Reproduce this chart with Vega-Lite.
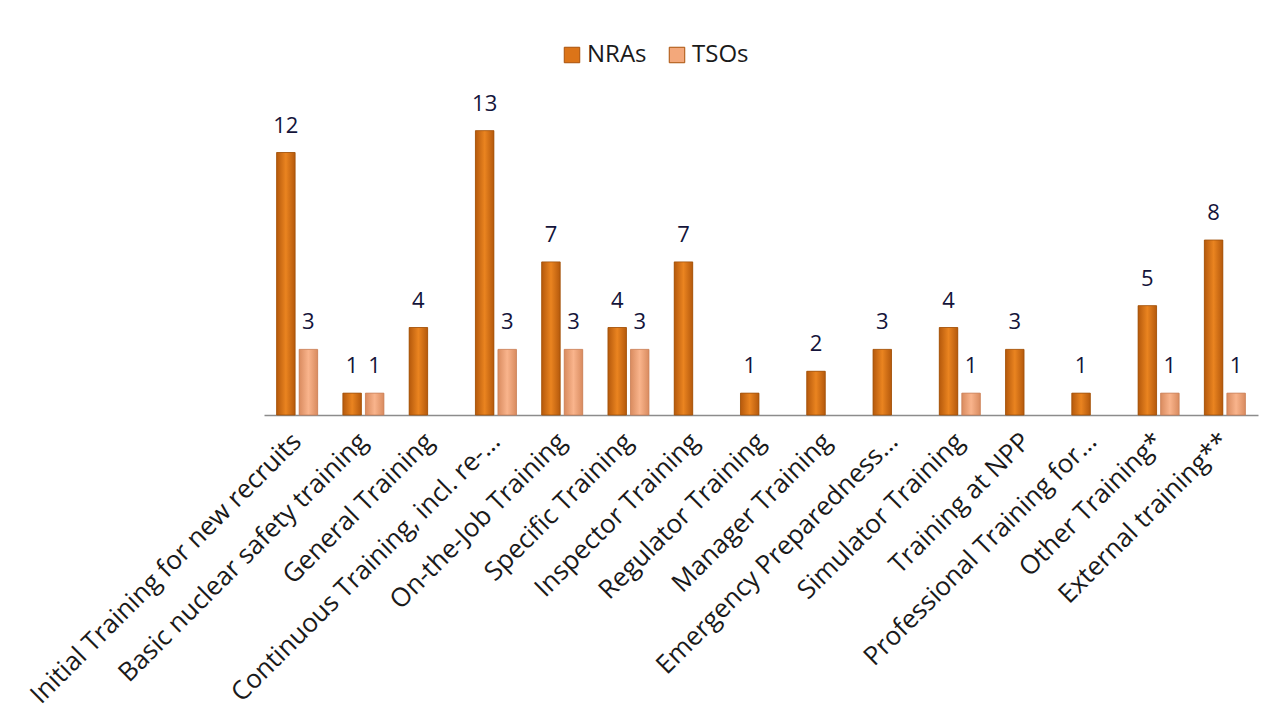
{
  "$schema": "https://vega.github.io/schema/vega-lite/v6.json",
  "width": 994,
  "height": 350,
  "autosize": {"type": "none"},
  "padding": {"left": 264, "top": 65, "right": 16, "bottom": 313},
  "background": "white",
  "config": {
    "view": {"stroke": null},
    "font": "Open Sans"
  },
  "data": {
    "values": [
      {"cat": "Initial Training for new recruits", "org": "NRAs", "n": 12},
      {"cat": "Initial Training for new recruits", "org": "TSOs", "n": 3},
      {"cat": "Basic nuclear safety training", "org": "NRAs", "n": 1},
      {"cat": "Basic nuclear safety training", "org": "TSOs", "n": 1},
      {"cat": "General Training", "org": "NRAs", "n": 4},
      {"cat": "Continuous Training, incl. re-…", "org": "NRAs", "n": 13},
      {"cat": "Continuous Training, incl. re-…", "org": "TSOs", "n": 3},
      {"cat": "On-the-Job Training", "org": "NRAs", "n": 7},
      {"cat": "On-the-Job Training", "org": "TSOs", "n": 3},
      {"cat": "Specific Training", "org": "NRAs", "n": 4},
      {"cat": "Specific Training", "org": "TSOs", "n": 3},
      {"cat": "Inspector Training", "org": "NRAs", "n": 7},
      {"cat": "Regulator Training", "org": "NRAs", "n": 1},
      {"cat": "Manager Training", "org": "NRAs", "n": 2},
      {"cat": "Emergency Preparedness…", "org": "NRAs", "n": 3},
      {"cat": "Simulator Training", "org": "NRAs", "n": 4},
      {"cat": "Simulator Training", "org": "TSOs", "n": 1},
      {"cat": "Training at NPP", "org": "NRAs", "n": 3},
      {"cat": "Professional Training for…", "org": "NRAs", "n": 1},
      {"cat": "Other Training*", "org": "NRAs", "n": 5},
      {"cat": "Other Training*", "org": "TSOs", "n": 1},
      {"cat": "External training**", "org": "NRAs", "n": 8},
      {"cat": "External training**", "org": "TSOs", "n": 1}
    ]
  },
  "encoding": {
    "x": {
      "field": "cat", "type": "nominal", "sort": null,
      "scale": {"paddingInner": 0, "paddingOuter": 0},
      "axis": {
        "title": null, "labelAngle": -45, "labelAlign": "right", "labelBaseline": "middle",
        "labelFontSize": 26, "labelColor": "#1a1a1a", "ticks": false, "labelPadding": 22,
        "domainColor": "#8c8c8c", "domainWidth": 1.5, "labelLimit": 0, "labelOverlap": false
      }
    },
    "xOffset": {
      "field": "org", "type": "nominal",
      "scale": {"domain": ["NRAs", "TSOs"], "paddingInner": 0.18, "paddingOuter": 0.56}
    },
    "y": {
      "field": "n", "type": "quantitative",
      "scale": {"domain": [0, 16], "nice": false},
      "axis": null
    }
  },
  "layer": [
    {
      "mark": {"type": "bar"},
      "encoding": {
        "color": {
          "field": "org", "type": "nominal",
          "scale": {"domain": ["NRAs", "TSOs"], "range": ["#dc7418", "#f3a87b"]},
          "legend": {
            "title": null, "orient": "none", "legendX": 296, "legendY": -22,
            "direction": "horizontal",
            "symbolType": "square", "symbolSize": 240, "labelFontSize": 24,
            "labelColor": "#1a1a1a", "columnPadding": 18, "labelOffset": 3,
            "symbolStrokeColor": "#a9520a", "symbolStrokeWidth": 1
          }
        }
      }
    },
    {
      "transform": [{"filter": "datum.org === 'NRAs'"}],
      "mark": {
        "type": "bar",
        "stroke": "#a0500a", "strokeWidth": 0.8,
        "fill": {
          "gradient": "linear", "x1": 0, "y1": 0, "x2": 1, "y2": 0,
          "stops": [
            {"offset": 0, "color": "#b5590c"},
            {"offset": 0.5, "color": "#ea8420"},
            {"offset": 1, "color": "#b5590c"}
          ]
        }
      },
      "encoding": {}
    },
    {
      "transform": [{"filter": "datum.org === 'TSOs'"}],
      "mark": {
        "type": "bar",
        "stroke": "#c9825a", "strokeWidth": 0.8,
        "fill": {
          "gradient": "linear", "x1": 0, "y1": 0, "x2": 1, "y2": 0,
          "stops": [
            {"offset": 0, "color": "#d98b5f"},
            {"offset": 0.5, "color": "#f9b48c"},
            {"offset": 1, "color": "#d98b5f"}
          ]
        }
      },
      "encoding": {}
    },
    {
      "mark": {"type": "text", "dy": -20, "fontSize": 22, "color": "#14143a", "baseline": "alphabetic"},
      "encoding": {"text": {"field": "n", "type": "quantitative"}}
    }
  ]
}
